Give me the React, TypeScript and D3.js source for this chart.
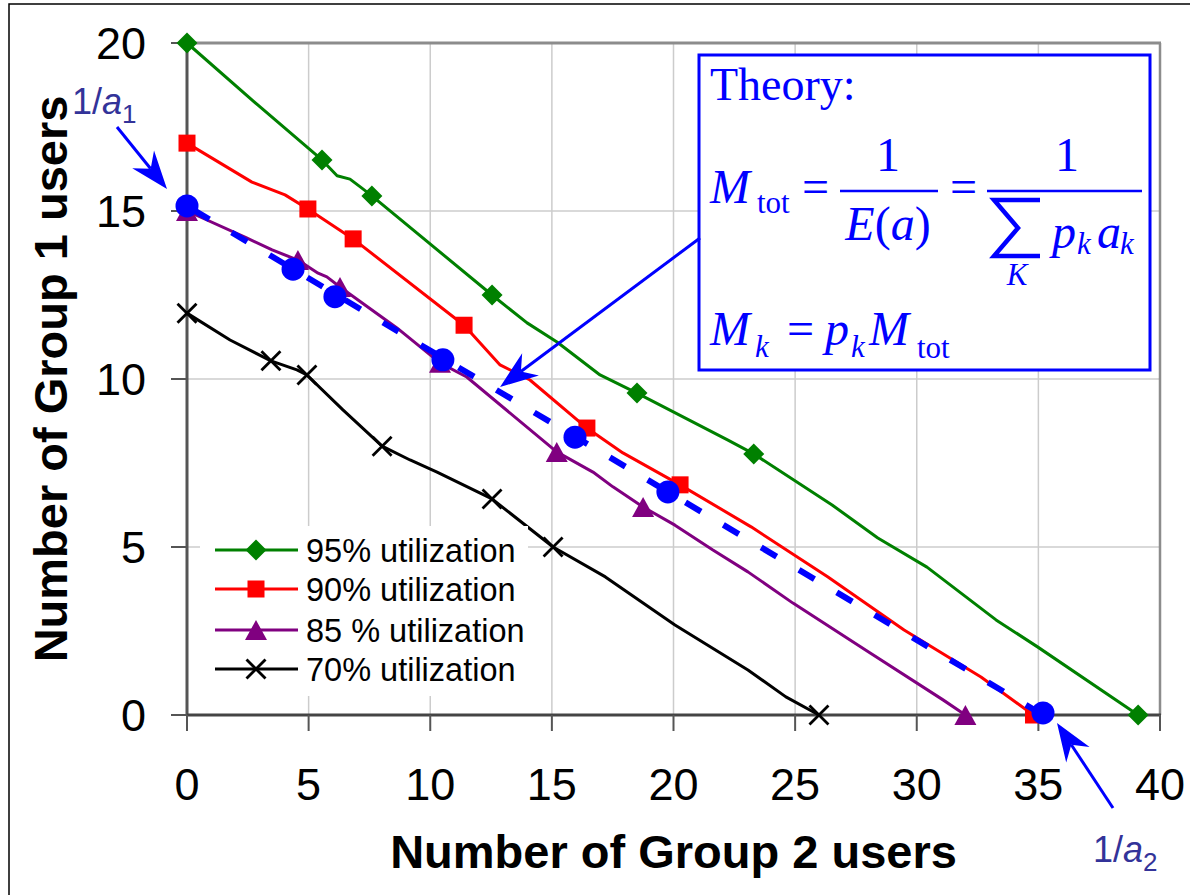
import React from 'react';
import * as d3 from 'd3';

type Pt = [number, number];

// ---- axis ticks ----
const xTicks = [0, 5, 10, 15, 20, 25, 30, 35, 40];
const yTicks = [0, 5, 10, 15, 20];

// ---- 95% utilization ----
const util95Line: Pt[] = [
  [0, 20], [2.92, 18.15], [5.55, 16.52], [6.17, 16.05], [6.7, 15.95], [7.19, 15.68], [7.6, 15.45],
  [12.54, 12.5], [13.98, 11.67], [15.21, 11.1], [16.98, 10.12], [18.5, 9.58], [22.24, 8.18],
  [23.3, 7.77], [26.52, 6.25], [28.4, 5.27], [30.42, 4.4], [33.26, 2.83], [34.98, 2.02], [39.1, 0],
];
const util95Markers: Pt[] = [[0, 20], [5.55, 16.52], [7.6, 15.45], [12.54, 12.5], [18.5, 9.58], [23.3, 7.77], [39.1, 0]];

// ---- 90% utilization ----
const util90Line: Pt[] = [
  [0, 17.02], [2.67, 15.86], [4.03, 15.48], [4.97, 15.06], [6.83, 14.17], [11.39, 11.6], [12.87, 10.42],
  [14.1, 9.97], [16.44, 8.54], [17.92, 7.8], [20.27, 6.85], [23.19, 5.6], [26.35, 4.11], [29.48, 2.53],
  [32.64, 1.13], [34.8, 0],
];
const util90Markers: Pt[] = [[0, 17.02], [4.97, 15.06], [6.83, 14.17], [11.39, 11.6], [16.44, 8.54], [20.27, 6.85], [34.8, 0]];

// ---- 85% utilization ----
const util85Line: Pt[] = [
  [0, 15], [2.45, 14.2], [3.5, 13.84], [4.56, 13.54], [5.39, 13.15], [5.75, 13.04], [6.29, 12.74],
  [8.63, 11.52], [10.4, 10.48], [11.5, 10.06], [15.2, 7.83], [16.69, 7.23], [17.51, 6.79], [18.75, 6.19],
  [20.06, 5.65], [21.62, 4.91], [23.06, 4.26], [24.91, 3.33], [27.91, 1.93], [31.08, 0.45], [32, 0],
];
const util85Markers: Pt[] = [[0, 15], [4.56, 13.54], [6.29, 12.74], [10.4, 10.48], [15.2, 7.83], [18.75, 6.19], [32, 0]];

// ---- 70% utilization ----
const util70Line: Pt[] = [
  [0, 11.96], [1.77, 11.16], [3.45, 10.54], [4.52, 10.27], [4.93, 10.12], [6.41, 9.08], [8.02, 8.0],
  [9.17, 7.59], [10.28, 7.23], [12.54, 6.43], [15.05, 5.0], [17.2, 4.11], [20.06, 2.68], [23.06, 1.34],
  [24.62, 0.54], [25.98, 0],
];
const util70Markers: Pt[] = [[0, 11.96], [3.45, 10.54], [4.93, 10.12], [8.02, 8.0], [12.54, 6.43], [15.05, 5.0], [25.98, 0]];

// ---- theory ----
const theoryLine: Pt[] = [[0, 15.15], [35.19, 0]];
const theoryMarkers: Pt[] = [[0, 15.15], [4.36, 13.27], [6.08, 12.45], [10.52, 10.57], [15.95, 8.27], [19.77, 6.64], [35.19, 0.06]];

const legendItems = [
  { label: '95% utilization', color: '#008000', shape: 'diamond' },
  { label: '90% utilization', color: '#FF0000', shape: 'square' },
  { label: '85 % utilization', color: '#800080', shape: 'triangle' },
  { label: '70% utilization', color: '#000000', shape: 'x' },
];

const W = 1190;
const H = 895;
const M = { left: 187, right: 1160, top: 43, bottom: 715 };

const x = d3.scaleLinear().domain([0, 40]).range([M.left, M.right]);
const y = d3.scaleLinear().domain([0, 20]).range([M.bottom, M.top]);
const line = d3.line<Pt>().x(d => x(d[0])).y(d => y(d[1]));

function Marker({ shape, color, cx, cy }: { shape: string; color: string; cx: number; cy: number }) {
  if (shape === 'diamond') return <path d={`M${cx},${cy - 10.5}L${cx + 10.5},${cy}L${cx},${cy + 10.5}L${cx - 10.5},${cy}Z`} fill={color} />;
  if (shape === 'square') return <rect x={cx - 8.5} y={cy - 8.5} width={17} height={17} fill={color} />;
  if (shape === 'triangle') return <path d={`M${cx},${cy - 10}L${cx + 11},${cy + 10}L${cx - 11},${cy + 10}Z`} fill={color} />;
  if (shape === 'x')
    return (
      <g stroke={color} strokeWidth={2.8}>
        <line x1={cx - 9.5} y1={cy - 9.5} x2={cx + 9.5} y2={cy + 9.5} />
        <line x1={cx - 9.5} y1={cy + 9.5} x2={cx + 9.5} y2={cy - 9.5} />
      </g>
    );
  return <circle cx={cx} cy={cy} r={11.5} fill={color} />;
}

function Arrow({ from, to, color }: { from: Pt; to: Pt; color: string }) {
  const dx = to[0] - from[0];
  const dy = to[1] - from[1];
  const L = Math.hypot(dx, dy);
  const ux = dx / L, uy = dy / L;
  const px = -uy, py = ux;
  const len = 38, half = 14, notch = 26;
  const bx = to[0] - ux * len, by = to[1] - uy * len;
  const nx = to[0] - ux * notch, ny = to[1] - uy * notch;
  const head = `M${to[0]},${to[1]}L${bx + px * half},${by + py * half}L${nx},${ny}L${bx - px * half},${by - py * half}Z`;
  return (
    <g>
      <line x1={from[0]} y1={from[1]} x2={nx} y2={ny} stroke={color} strokeWidth={3} />
      <path d={head} fill={color} />
    </g>
  );
}

const series = [
  { line: util95Line, markers: util95Markers, color: '#008000', shape: 'diamond' },
  { line: util90Line, markers: util90Markers, color: '#FF0000', shape: 'square' },
  { line: util85Line, markers: util85Markers, color: '#800080', shape: 'triangle' },
  { line: util70Line, markers: util70Markers, color: '#000000', shape: 'x' },
];

export default function App() {
  const serif = '"Liberation Serif", "Times New Roman", serif';
  const sans = '"Liberation Sans", Arial, sans-serif';
  const blue = '#0000FF';
  const annot = '#333399';
  const bx = 699, by = 55;
  return (
    <svg width={W} height={H} style={{ position: 'absolute', left: 0, top: 0, background: '#fff' }} fontFamily={sans}>
      <rect width={W} height={H} fill="#fff" />
      <path d={`M9,${H}V4H${W}`} fill="none" stroke="#000" strokeWidth={1.5} />

      {/* gridlines */}
      {xTicks.filter(t => t > 0 && t < 40).map(t => (
        <line key={'gx' + t} x1={x(t)} x2={x(t)} y1={M.top} y2={M.bottom} stroke="#cccccc" strokeWidth={1.5} />
      ))}
      {yTicks.filter(t => t > 0 && t < 20).map(t => (
        <line key={'gy' + t} x1={M.left} x2={M.right} y1={y(t)} y2={y(t)} stroke="#cccccc" strokeWidth={1.5} />
      ))}
      {/* plot border */}
      <line x1={M.left} x2={M.right + 1} y1={M.top} y2={M.top} stroke="#8c8c8c" strokeWidth={3} />
      <line x1={M.right} x2={M.right} y1={M.top} y2={M.bottom} stroke="#8c8c8c" strokeWidth={2.5} />

      {/* axes */}
      <line x1={M.left} x2={M.left} y1={M.top} y2={M.bottom} stroke="#555" strokeWidth={3} />
      <line x1={M.left} x2={M.right + 1} y1={M.bottom} y2={M.bottom} stroke="#444" strokeWidth={3} />
      {xTicks.map(t => (
        <g key={'xt' + t}>
          <line x1={x(t)} x2={x(t)} y1={M.bottom} y2={M.bottom + 16} stroke="#555" strokeWidth={2} />
          <text x={x(t)} y={800} textAnchor="middle" fontSize={45} fill="#000">{t}</text>
        </g>
      ))}
      {yTicks.map(t => (
        <g key={'yt' + t}>
          <line x1={M.left - 16} x2={M.left} y1={y(t)} y2={y(t)} stroke="#555" strokeWidth={2} />
          <text x={146} y={y(t) + 16} textAnchor="end" fontSize={45} fill="#000">{t}</text>
        </g>
      ))}
      <text x={(M.left + M.right) / 2} y={868} textAnchor="middle" fontSize={47} fontWeight="bold" fill="#000">
        Number of Group 2 users
      </text>
      <text transform={`translate(67,${(M.top + M.bottom) / 2}) rotate(-90)`} textAnchor="middle" fontSize={47} fontWeight="bold" fill="#000">
        Number of Group 1 users
      </text>

      {/* data series */}
      {series.map((s, i) => (
        <g key={'s' + i}>
          <path d={line(s.line) || ''} fill="none" stroke={s.color} strokeWidth={3} strokeLinejoin="round" />
          {s.markers.map((m, j) => (
            <Marker key={j} shape={s.shape} color={s.color} cx={x(m[0])} cy={y(m[1])} />
          ))}
        </g>
      ))}

      {/* legend */}
      <rect x={200} y={526} width={328} height={170} fill="#fff" />
      {legendItems.map((it, i) => {
        const ly = [550, 589, 630, 669][i];
        return (
          <g key={'lg' + i}>
            <line x1={215} x2={298} y1={ly} y2={ly} stroke={it.color} strokeWidth={3} />
            <Marker shape={it.shape} color={it.color} cx={256} cy={ly} />
            <text x={306} y={ly + 12} fontSize={32.5} fill="#000">{it.label}</text>
          </g>
        );
      })}

      {/* theory */}
      <path d={line(theoryLine) || ''} fill="none" stroke={blue} strokeWidth={6} strokeDasharray="18 26" strokeDashoffset={-8} />
      {theoryMarkers.map((m, j) => (
        <Marker key={'tm' + j} shape="circle" color={blue} cx={x(m[0])} cy={y(m[1])} />
      ))}

      {/* theory box */}
      <rect x={bx} y={by} width={451} height={315} fill="#fff" stroke={blue} strokeWidth={3} />
      <g fontFamily={serif} fill={blue}>
        <text x={bx + 11} y={by + 45} fontSize={46}>Theory:</text>
        <text x={bx + 11} y={by + 148} fontSize={48} fontStyle="italic">M</text>
        <text x={bx + 58} y={by + 158} fontSize={31}>tot</text>
        <text x={bx + 103} y={by + 148} fontSize={48}>=</text>
        <line x1={bx + 141} x2={bx + 239} y1={by + 136} y2={by + 136} stroke={blue} strokeWidth={2.5} />
        <text x={bx + 189} y={by + 116} fontSize={48} textAnchor="middle">1</text>
        <text x={bx + 189} y={by + 185} fontSize={48} textAnchor="middle">
          <tspan fontStyle="italic">E</tspan>
          <tspan>(</tspan>
          <tspan fontStyle="italic">a</tspan>
          <tspan>)</tspan>
        </text>
        <text x={bx + 251} y={by + 148} fontSize={48}>=</text>
        <line x1={bx + 288} x2={bx + 443} y1={by + 136} y2={by + 136} stroke={blue} strokeWidth={2.5} />
        <text x={bx + 368} y={by + 116} fontSize={48} textAnchor="middle">1</text>
        <path
          d={`M${bx + 341},${by + 145}L${bx + 295},${by + 145}L${bx + 319},${by + 173}L${bx + 295},${by + 201}L${bx + 341},${by + 201}`}
          fill="none" stroke={blue} strokeWidth={4.5} strokeLinejoin="miter"
        />
        <text x={bx + 318} y={by + 230} fontSize={31} fontStyle="italic" textAnchor="middle">K</text>
        <text x={bx + 353} y={by + 193} fontSize={48} fontStyle="italic">p</text>
        <text x={bx + 378} y={by + 199} fontSize={31} fontStyle="italic">k</text>
        <text x={bx + 398} y={by + 193} fontSize={48} fontStyle="italic">a</text>
        <text x={bx + 421} y={by + 199} fontSize={31} fontStyle="italic">k</text>

        <text x={bx + 11} y={by + 290} fontSize={48} fontStyle="italic">M</text>
        <text x={bx + 56} y={by + 302} fontSize={31} fontStyle="italic">k</text>
        <text x={bx + 88} y={by + 290} fontSize={48}>=</text>
        <text x={bx + 126} y={by + 290} fontSize={48} fontStyle="italic">p</text>
        <text x={bx + 152} y={by + 302} fontSize={31} fontStyle="italic">k</text>
        <text x={bx + 170} y={by + 290} fontSize={48} fontStyle="italic">M</text>
        <text x={bx + 218} y={by + 303} fontSize={31}>tot</text>
      </g>

      {/* annotation arrows */}
      <Arrow from={[700, 238]} to={[x(12.87), y(9.76)]} color={blue} />
      <Arrow from={[117, 127]} to={[x(0) - 20, y(15.15) - 17]} color={blue} />
      <Arrow from={[1113, 808]} to={[x(35.19) + 14, y(0) + 8]} color={blue} />

      <text x={72} y={114} fontSize={36} fill={annot}>
        1/<tspan fontStyle="italic">a</tspan>
        <tspan fontSize={26} dy={9}>1</tspan>
      </text>
      <text x={1093} y={862} fontSize={36} fill={annot}>
        1/<tspan fontStyle="italic">a</tspan>
        <tspan fontSize={26} dy={9}>2</tspan>
      </text>
    </svg>
  );
}
